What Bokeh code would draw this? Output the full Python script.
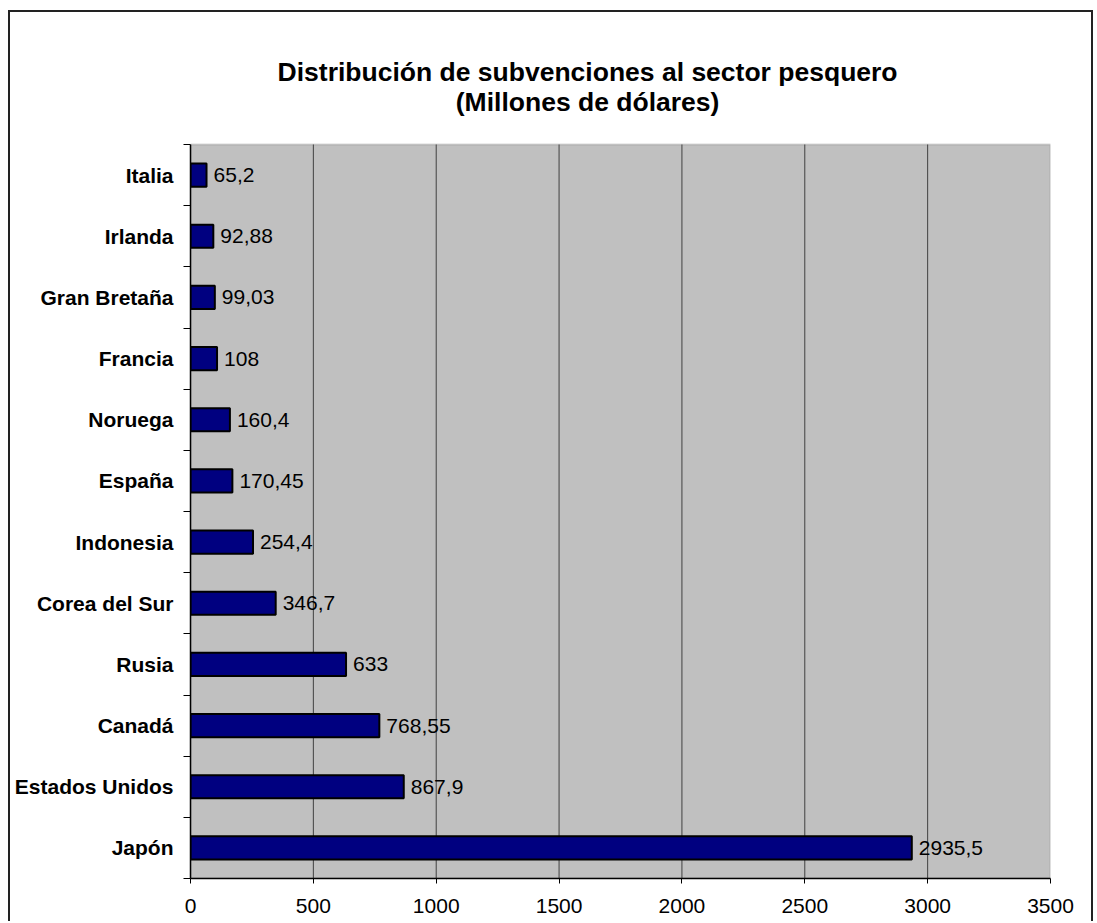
from bokeh.plotting import figure
from bokeh.models import Range1d, FixedTicker, Label, BoxAnnotation, ColumnDataSource
from bokeh.core.properties import value
from bokeh.embed import file_html
from bokeh.resources import INLINE

# Data (top to bottom as in the chart)
countries = ["Italia", "Irlanda", "Gran Bretaña", "Francia", "Noruega", "España",
             "Indonesia", "Corea del Sur", "Rusia", "Canadá", "Estados Unidos", "Japón"]
amounts = [65.2, 92.88, 99.03, 108, 160.4, 170.45, 254.4, 346.7, 633, 768.55, 867.9, 2935.5]
x_ticks = [0, 500, 1000, 1500, 2000, 2500, 3000, 3500]
title_lines = ["Distribución de subvenciones al sector pesquero", "(Millones de dólares)"]

FONT = "Liberation Sans"
n = len(countries)
# bottom-to-top positions: last country at bottom
pos = [n - 1 - i + 0.5 for i in range(n)]
labels = [f"{v:g}".replace(".", ",") for v in amounts]
src = ColumnDataSource(dict(y=pos, x=amounts, lab=labels))

# frame extends up to the top so the title can live inside it;
# the plotting area proper is y in [0, n]
Y_TOP = n * 866 / 734

p = figure(width=1085, height=911, output_backend="svg", toolbar_location=None,
           x_range=Range1d(0, 3500), y_range=Range1d(0, Y_TOP),
           min_border_left=180, min_border_right=45, min_border_top=0, min_border_bottom=45)
p.styles = {"border-top": "2px solid #222", "border-left": "2px solid #222",
            "border-right": "2px solid #222", "margin-left": "8px", "margin-top": "10px"}
p.background_fill_color = "white"
p.border_fill_color = "white"
p.outline_line_color = None

# grey plot area
p.add_layout(BoxAnnotation(left=0, right=3500, bottom=0, top=n, level="underlay",
                           fill_color="#C0C0C0", fill_alpha=1.0,
                           line_color="#808080", line_width=2))

# vertical grid lines within the plot area
gx = x_ticks[1:-1]
p.segment(x0=gx, x1=gx, y0=[0] * len(gx), y1=[n] * len(gx),
          line_color="#404040", line_width=1)

p.hbar(y="y", right="x", left=0, height=0.38, source=src,
       fill_color="#000080", line_color="black", line_width=2)
p.text(x="x", y="y", text="lab", source=src, x_offset=7,
       text_baseline="middle", text_align="left",
       text_font=value(FONT), text_font_size="21px", text_color="black")

# x axis
p.xaxis.ticker = FixedTicker(ticks=x_ticks)
p.xaxis.axis_line_color = "black"
p.xaxis.axis_line_width = 1.5
p.xaxis.major_tick_out = 5
p.xaxis.major_tick_in = 0
p.xaxis.major_tick_line_color = "black"
p.xaxis.minor_tick_line_color = None
p.xaxis.major_label_text_font = FONT
p.xaxis.major_label_text_font_size = "21px"
p.xaxis.major_label_text_color = "black"
p.xaxis.major_label_standoff = 15

# y axis
p.yaxis.bounds = (0, n)
p.yaxis.ticker = FixedTicker(ticks=pos, minor_ticks=list(range(n + 1)))
p.yaxis.major_label_overrides = {pv: c for pv, c in zip(pos, countries)}
p.yaxis.axis_line_color = "black"
p.yaxis.axis_line_width = 1.5
p.yaxis.major_tick_line_color = None
p.yaxis.minor_tick_line_color = "black"
p.yaxis.minor_tick_out = 7
p.yaxis.minor_tick_in = 0
p.yaxis.major_label_text_font = FONT
p.yaxis.major_label_text_font_size = "21px"
p.yaxis.major_label_text_font_style = "bold"
p.yaxis.major_label_text_color = "black"
p.yaxis.major_label_standoff = 10

p.xgrid.visible = False
p.ygrid.visible = False

# two-line title, centred, inside the (white) upper part of the frame
for txt, yy in zip(title_lines, [13.182, 12.692]):
    p.add_layout(Label(x=1616, y=yy, text=txt,
                       text_font=FONT, text_font_size="26.5px", text_font_style="bold",
                       text_align="center", text_baseline="alphabetic", text_color="black"))

open("out.html", "w").write(file_html(p, INLINE))
